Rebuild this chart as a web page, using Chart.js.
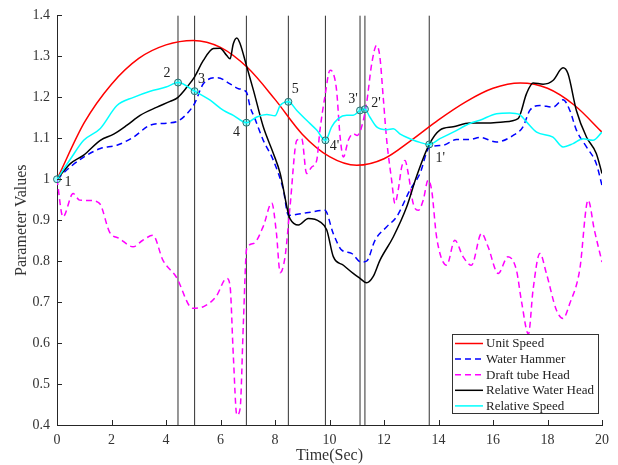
<!DOCTYPE html>
<html>
<head>
<meta charset="utf-8">
<script src="https://cdn.jsdelivr.net/npm/chart.js@4.4.1/dist/chart.umd.min.js"></script>
<style>
  html, body { margin: 0; padding: 0; background: #fff; }
  #wrap { width: 618px; height: 465px; position: relative; }
</style>
</head>
<body>
<div id="wrap"><canvas id="chart"></canvas></div>
<script>
// ---- Data ----
const unitSpeedT = [0,1,2,3,4,5,6,7,8,9,10,11,12,13,14,15,16,17,18,19,20];
const unitSpeed  = [1.000,1.138,1.232,1.295,1.328,1.339,1.322,1.272,1.195,1.110,1.055,1.034,1.050,1.095,1.145,1.189,1.222,1.235,1.222,1.180,1.115];

const waterHammerT = [0,0.49,0.98,1.59,2.2,2.81,3.42,4.03,4.44,4.77,5.05,5.37,5.9,6.35,6.66,6.95,7.09,7.25,7.57,7.94,8.31,8.49,9.16,9.83,10.14,10.45,10.81,11.15,11.36,11.67,12.1,12.46,12.95,13.32,13.66,14.17,14.66,15.15,15.52,16.13,16.74,17.1,17.35,17.72,18.2,18.57,18.82,19.06,19.43,19.79,20];
const waterHammer  = [1.0,1.030,1.054,1.075,1.083,1.103,1.132,1.137,1.142,1.16,1.185,1.233,1.248,1.233,1.221,1.213,1.176,1.15,1.095,1.046,0.973,0.912,0.918,0.924,0.867,0.827,0.819,0.798,0.8,0.851,0.884,0.908,0.973,1.014,1.077,1.083,1.097,1.097,1.102,1.091,1.107,1.128,1.168,1.18,1.176,1.194,1.168,1.12,1.079,1.038,0.985];

const draftTubeT = [0,0.22,0.59,0.83,1.2,1.56,1.93,2.3,2.79,3.15,3.52,3.89,4.37,4.98,5.38,5.84,6.23,6.35,6.47,6.6,6.72,6.84,6.96,7.21,7.57,7.88,8.05,8.19,8.37,8.55,8.8,8.98,9.16,9.35,9.53,9.65,9.83,10.02,10.14,10.26,10.39,10.51,10.69,10.87,11.02,11.18,11.36,11.55,11.73,11.85,11.97,12.1,12.28,12.4,12.52,12.65,12.77,12.89,13.07,13.26,13.44,13.62,13.75,13.93,14.3,14.6,14.9,15.21,15.58,15.82,16.19,16.55,16.86,17.05,17.3,17.47,17.72,17.96,18.33,18.57,18.82,19.18,19.49,19.72,20];
const draftTube  = [1.0,0.908,0.965,0.949,0.948,0.941,0.871,0.855,0.835,0.851,0.863,0.802,0.762,0.685,0.689,0.714,0.758,0.74,0.57,0.424,0.44,0.65,0.83,0.843,0.885,0.942,0.87,0.772,0.811,0.932,1.095,1.099,1.014,1.03,1.046,1.12,1.201,1.266,1.258,1.217,1.103,1.054,1.095,1.111,1.107,1.128,1.185,1.282,1.327,1.298,1.201,1.095,0.998,0.941,0.973,1.03,1.046,1.014,0.941,0.924,0.949,0.998,0.973,0.859,0.79,0.851,0.811,0.79,0.868,0.835,0.77,0.811,0.778,0.70,0.622,0.73,0.819,0.77,0.68,0.66,0.697,0.778,0.949,0.876,0.798];

const waterHeadT = [0,0.49,0.98,1.59,2.08,2.57,3.05,3.67,4.15,4.44,4.77,5.05,5.37,5.74,5.98,6.23,6.35,6.47,6.6,6.72,6.95,7.21,7.57,7.94,8.19,8.49,8.55,8.86,9.22,9.65,9.9,10.14,10.51,10.87,11.12,11.36,11.6,11.85,12.34,12.83,13.19,13.66,14.05,14.54,15.15,15.76,16.37,16.92,17.23,17.47,17.84,18.2,18.57,18.75,19.06,19.43,19.79,20];
const waterHead  = [1.0,1.038,1.059,1.095,1.110,1.132,1.156,1.176,1.19,1.2,1.225,1.25,1.29,1.319,1.32,1.302,1.294,1.331,1.345,1.331,1.278,1.217,1.128,1.063,1.014,0.916,0.904,0.888,0.904,0.896,0.876,0.811,0.79,0.77,0.758,0.747,0.762,0.802,0.859,0.932,1.006,1.085,1.12,1.128,1.137,1.137,1.14,1.148,1.209,1.235,1.232,1.241,1.272,1.258,1.168,1.103,1.063,1.014];

const relSpeedT = [0,0.5,0.98,1.59,2.2,2.81,3.42,4.0,4.44,5.05,5.62,6.11,6.47,6.95,7.33,7.7,8.0,8.19,8.49,8.8,9.16,9.53,9.85,10.08,10.32,10.63,10.87,11.12,11.3,11.48,11.73,12.1,12.34,12.58,12.95,13.32,13.66,14.05,14.54,15.15,15.52,16.13,16.62,16.97,17.23,17.6,18.2,18.57,18.94,19.3,19.67,20];
const relSpeed  = [1.0,1.05,1.095,1.124,1.18,1.2,1.215,1.225,1.236,1.215,1.193,1.168,1.156,1.138,1.152,1.158,1.155,1.18,1.189,1.168,1.144,1.12,1.095,1.128,1.148,1.156,1.156,1.168,1.171,1.152,1.128,1.121,1.123,1.111,1.099,1.09,1.085,1.099,1.115,1.136,1.144,1.16,1.162,1.158,1.14,1.115,1.103,1.079,1.087,1.099,1.095,1.115];

const markerLabels = ['1','2','3','4','5',"4'","3'","2'","1'"];
const markerTimes  = [0,4.44,5.05,6.95,8.49,9.85,11.12,11.30,13.66];
const markerValues = [1.0,1.236,1.215,1.138,1.189,1.095,1.168,1.171,1.085];

const vlineTimes = [4.44,5.05,6.95,8.49,9.85,11.12,11.30,13.66];

const xTicks = [0,2,4,6,8,10,12,14,16,18,20];
const yTicks = [0.4,0.5,0.6,0.7,0.8,0.9,1.0,1.1,1.2,1.3,1.4];

// ---- Styling ----
const FONT = '"Liberation Serif", "Times New Roman", serif';
const AXIS_COLOR = '#262626';
const TEXT_COLOR = '#333';
// label offsets relative to marker (px)
const labelOffsets = [[11,3],[-11,-9],[7,-12],[-10,10],[7,-12],[9,6],[-7,-11],[11,-6],[11,14]];

const pts = (ts, vs) => ts.map((t, i) => ({ x: t, y: vs[i] }));

const series = [
  { label: 'Unit Speed',          t: unitSpeedT,   v: unitSpeed,   color: '#ff0000', dash: [],     order: 5 },
  { label: 'Water Hammer',        t: waterHammerT, v: waterHammer, color: '#0000ff', dash: [6, 4], order: 4 },
  { label: 'Draft tube Head',     t: draftTubeT,   v: draftTube,   color: '#ff00ff', dash: [6, 4], order: 3 },
  { label: 'Relative Water Head', t: waterHeadT,   v: waterHead,   color: '#000000', dash: [],     order: 2 },
  { label: 'Relative Speed',      t: relSpeedT,    v: relSpeed,    color: '#00ffff', dash: [],     order: 1 },
];

let datasets = series.map(s => ({
  label: s.label,
  data: pts(s.t, s.v),
  borderColor: s.color,
  borderDash: s.dash,
  borderWidth: 1.5,
  pointRadius: 0,
  cubicInterpolationMode: 'monotone',
  fill: false,
  order: s.order,
  isSeries: true,
}));

vlineTimes.forEach(t => {
  datasets.push({
    data: [{ x: t, y: yTicks[0] }, { x: t, y: yTicks[yTicks.length - 1] }],
    borderColor: '#303030',
    borderWidth: 1,
    pointRadius: 0,
    order: 10,
  });
});

datasets.push({
  type: 'scatter',
  data: pts(markerTimes, markerValues),
  pointRadius: 3.5,
  pointStyle: 'circle',
  borderColor: '#2c6e6e',
  backgroundColor: 'rgba(0,255,255,0.35)',
  borderWidth: 1,
  showLine: false,
  order: 0,
  clip: false,
});

// Inward ticks (MATLAB style), marker labels and boxed legend
const decorations = {
  id: 'decorations',
  afterDatasetsDraw(chart) {
    const ctx = chart.ctx;
    const x = chart.scales.x, y = chart.scales.y;
    const area = chart.chartArea;

    ctx.save();
    ctx.strokeStyle = AXIS_COLOR;
    ctx.lineWidth = 1;
    ctx.beginPath();
    xTicks.forEach(v => {
      const px = Math.round(x.getPixelForValue(v)) + 0.5;
      ctx.moveTo(px, area.bottom);
      ctx.lineTo(px, area.bottom - 5);
    });
    yTicks.forEach(v => {
      const py = Math.round(y.getPixelForValue(v)) + 0.5;
      ctx.moveTo(area.left, py);
      ctx.lineTo(area.left + 5, py);
    });
    ctx.stroke();

    ctx.fillStyle = '#222';
    ctx.font = '14px ' + FONT;
    ctx.textAlign = 'center';
    ctx.textBaseline = 'middle';
    markerLabels.forEach((lab, i) => {
      const px = x.getPixelForValue(markerTimes[i]);
      const py = y.getPixelForValue(markerValues[i]);
      ctx.fillText(lab, px + labelOffsets[i][0], py + labelOffsets[i][1]);
    });
    ctx.restore();
  },
  afterDraw(chart) {
    const ctx = chart.ctx;
    const box = { left: 452, top: 334, right: 598, bottom: 413 };
    ctx.save();
    ctx.fillStyle = '#fff';
    ctx.fillRect(box.left, box.top, box.right - box.left, box.bottom - box.top);
    ctx.strokeStyle = '#333';
    ctx.lineWidth = 1;
    ctx.strokeRect(box.left + 0.5, box.top + 0.5, box.right - box.left, box.bottom - box.top);

    ctx.font = '13px ' + FONT;
    ctx.textAlign = 'left';
    ctx.textBaseline = 'middle';
    series.forEach((s, i) => {
      const cy = box.top + 9.5 + i * 15.6;
      ctx.strokeStyle = s.color;
      ctx.lineWidth = 1.5;
      ctx.setLineDash(s.dash);
      ctx.beginPath();
      ctx.moveTo(455, cy);
      ctx.lineTo(483, cy);
      ctx.stroke();
      ctx.setLineDash([]);
      ctx.fillStyle = '#222';
      ctx.fillText(s.label, 486, cy + 0.5);
    });
    ctx.restore();
  }
};

new Chart(document.getElementById('chart'), {
  type: 'line',
  data: { datasets: datasets },
  options: {
    responsive: true,
    maintainAspectRatio: false,
    animation: false,
    events: [],
    layout: { padding: { top: 15, right: 16, left: 0, bottom: 0 } },
    plugins: {
      legend: { display: false },
      tooltip: { enabled: false },
    },
    scales: {
      x: {
        type: 'linear',
        min: 0,
        max: 20,
        afterFit: s => { s.height = 40; },
        afterBuildTicks: s => { s.ticks = xTicks.map(v => ({ value: v })); },
        ticks: { padding: 7, color: TEXT_COLOR, font: { family: FONT, size: 14 }, maxRotation: 0 },
        grid: { display: false, drawTicks: false },
        border: { display: true, color: AXIS_COLOR, width: 1 },
        title: { display: true, text: 'Time(Sec)', color: TEXT_COLOR, font: { family: FONT, size: 16 }, padding: { top: 0, bottom: 0 } },
      },
      y: {
        type: 'linear',
        min: 0.4,
        max: 1.4,
        afterFit: s => { s.width = 57; },
        afterBuildTicks: s => { s.ticks = yTicks.map(v => ({ value: v })); },
        ticks: {
          padding: 7,
          color: TEXT_COLOR,
          font: { family: FONT, size: 14 },
          callback: v => String(parseFloat(v.toFixed(1))),
        },
        grid: { display: false, drawTicks: false },
        border: { display: true, color: AXIS_COLOR, width: 1 },
        title: { display: true, text: 'Parameter Values', color: TEXT_COLOR, font: { family: FONT, size: 16 }, padding: { top: 12, bottom: 0 } },
      },
    },
  },
  plugins: [decorations],
});
</script>
</body>
</html>
